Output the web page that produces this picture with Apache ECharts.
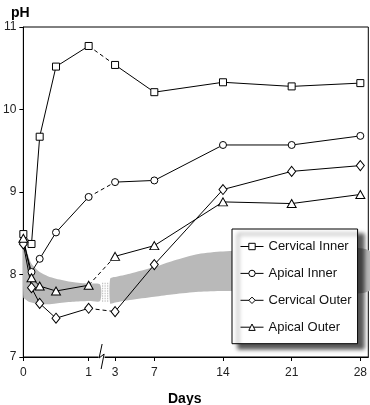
<!DOCTYPE html>
<html>
<head>
<meta charset="utf-8">
<script src="https://cdn.jsdelivr.net/npm/echarts@6/dist/echarts.min.js"></script>
<style>html,body{margin:0;padding:0;background:#fff}#c{width:370px;height:405px}</style>
</head>
<body>
<div id="c"></div>
<script>
// ---- data (days) ----
const timesEarly = [0, 0.125, 0.25, 0.5, 1];
const timesLate = [3, 7, 14, 21, 28];
const seriesNames = ['Cervical Inner', 'Apical Inner', 'Cervical Outer', 'Apical Outer'];
const cervicalInner = [8.49, 8.37, 9.67, 10.52, 10.77, 10.54, 10.21, 10.33, 10.28, 10.32];
const apicalInner   = [8.40, 8.03, 8.19, 8.51, 8.94, 9.12, 9.14, 9.57, 9.57, 9.68];
const cervicalOuter = [8.37, 7.84, 7.65, 7.47, 7.59, 7.55, 8.12, 9.03, 9.25, 9.32];
const apicalOuter   = [8.44, 7.96, 7.86, 7.80, 7.87, 8.22, 8.35, 8.88, 8.86, 8.97];
const xTickDays = [0, 1, 3, 7, 14, 21, 28];
const xTickLabels = ['0', '1', '3', '7', '14', '21', '28'];
const yTicks = [7, 8, 9, 10, 11];
// normal range band
const bandEarlyDays  = [0, 0.03, 0.0625, 0.125, 0.25, 0.375, 0.5, 0.75, 1, 1.175];
const bandEarlyUpper = [8.45, 8.36, 8.26, 8.13, 8.03, 7.98, 7.95, 7.91, 7.89, 7.88];
const bandEarlyLower = [7.72, 7.70, 7.68, 7.66, 7.64, 7.64, 7.65, 7.67, 7.68, 7.68];
const bandLateDays   = [2.5, 3, 4.5, 7, 9, 11.5, 14, 21, 28.9];
const bandLateUpper  = [7.95, 7.97, 8.01, 8.09, 8.17, 8.25, 8.28, 8.29, 8.29];
const bandLateLower  = [7.65, 7.66, 7.69, 7.73, 7.76, 7.79, 7.80, 7.80, 7.80];
const breakDay = 2.0;

// ---- broken-axis mapping: days -> axis units ----
function toAxis(d) {
  if (d === breakDay) return 78.5;
  return d < 2 ? d * 65.5 : 92 + (d - 3) * 9.84;
}
const tickPos = xTickDays.map(toAxis);

const symbols = [
  {symbol: 'rect', size: [7, 7]},
  {symbol: 'circle', size: 7},
  {symbol: 'diamond', size: [8, 10]},
  {symbol: 'triangle', size: [9, 8]}
];
const allData = [cervicalInner, apicalInner, cervicalOuter, apicalOuter];

const series = [];
allData.forEach((vals, i) => {
  const early = timesEarly.map((d, k) => [toAxis(d), vals[k]]);
  const late = timesLate.map((d, k) => [toAxis(d), vals[timesEarly.length + k]]);
  const base = {
    type: 'line', name: seriesNames[i],
    symbol: symbols[i].symbol, symbolSize: symbols[i].size,
    lineStyle: {color: '#000', width: 1},
    itemStyle: {color: '#fff', borderColor: '#000', borderWidth: 1},
    emphasis: {disabled: true}, z: 3, animation: false
  };
  series.push(Object.assign({}, base, {data: early}));
  series.push(Object.assign({}, base, {data: late}));
  series.push(Object.assign({}, base, {
    data: [early[early.length - 1], late[0]], showSymbol: false, symbol: 'none',
    lineStyle: {color: '#000', width: 1, type: [4, 3]}, z: 2
  }));
});

// band as custom polygons
series.push({
  type: 'custom', silent: true, z: 1, clip: false, animation: false,
  data: [0],
  renderItem: function (params, api) {
    function poly(days, up, lo) {
      const pts = [];
      days.forEach((d, k) => pts.push(api.coord([toAxis(d), up[k]])));
      for (let k = days.length - 1; k >= 0; k--) pts.push(api.coord([toAxis(days[k]), lo[k]]));
      return {type: 'polygon', shape: {points: pts, smooth: 0.25}, style: {fill: '#b9b9b9'}};
    }
    const children = [
      poly(bandEarlyDays, bandEarlyUpper, bandEarlyLower),
      poly(bandLateDays, bandLateUpper, bandLateLower)
    ];
    const a = toAxis(bandEarlyDays[bandEarlyDays.length - 1]);
    const b = toAxis(bandLateDays[0]);
    [0.25, 0.5, 0.75].forEach(f => {
      const x = a + (b - a) * f;
      const p1 = api.coord([x, 7.90]);
      const p2 = api.coord([x, 7.67]);
      children.push({type: 'line', shape: {x1: p1[0], y1: p1[1], x2: p2[0], y2: p2[1]},
        style: {stroke: '#c4c4c4', lineWidth: 1.2, lineDash: [1.5, 1]}});
    });
    return {type: 'group', children: children};
  }
});

// axis break mark
series.push({
  type: 'custom', silent: true, z: 5, clip: false, animation: false,
  data: [0],
  renderItem: function (params, api) {
    const p = api.coord([toAxis(breakDay), 7]);
    const x = p[0], y = p[1];
    return {type: 'group', children: [
      {type: 'line', shape: {x1: x - 3, y1: y, x2: x + 3, y2: y}, style: {stroke: '#fff', lineWidth: 2}},
      {type: 'polyline', shape: {points: [[x + 0.5, y - 13], [x - 2.5, y + 1], [x + 2.5, y - 3], [x - 0.5, y + 12]]},
        style: {stroke: '#000', lineWidth: 1, fill: null}}
    ]};
  }
});

const FONT = 'Liberation Sans, Arial, Helvetica, sans-serif';
const chart = echarts.init(document.getElementById('c'), null, {renderer: 'canvas'});
chart.setOption({
  animation: false,
  backgroundColor: '#fff',
  textStyle: {fontFamily: FONT},
  title: [
    {text: 'pH', left: 6, top: 1, textStyle: {fontSize: 14, fontWeight: 'bold', color: '#000', fontFamily: FONT}},
    {text: 'Days', left: 163, top: 387, textStyle: {fontSize: 14, fontWeight: 'bold', color: '#000', fontFamily: FONT}}
  ],
  grid: {left: 23, top: 27, right: 1, bottom: 48, show: true, borderColor: '#000', borderWidth: 1, containLabel: false},
  xAxis: {
    type: 'value', min: 0, max: 346,
    axisLine: {lineStyle: {color: '#000', width: 1}},
    axisTick: {show: true, customValues: tickPos, length: 4, inside: false, lineStyle: {color: '#000'}},
    axisLabel: {customValues: tickPos, margin: 10, fontSize: 12, color: '#222', fontFamily: FONT,
      formatter: function (v) {
        let best = 0;
        tickPos.forEach((t, k) => { if (Math.abs(t - v) < Math.abs(tickPos[best] - v)) best = k; });
        return xTickLabels[best];
      }},
    splitLine: {show: false}
  },
  yAxis: {
    type: 'value', min: yTicks[0], max: yTicks[yTicks.length - 1], interval: 1,
    axisLine: {show: true, lineStyle: {color: '#000', width: 1}},
    axisTick: {show: true, length: 4, lineStyle: {color: '#000'}},
    axisLabel: {margin: 7, fontSize: 12, color: '#222', fontFamily: FONT},
    splitLine: {show: false}
  },
  legend: {
    data: seriesNames, orient: 'vertical', left: 232, top: 229,
    itemWidth: 23, itemHeight: 8, itemGap: 13.9,
    padding: [11, 6, 10, 8],
    backgroundColor: '#fff', borderColor: '#000', borderWidth: 1,
    shadowBlur: 4, shadowColor: 'rgba(0,0,0,0.65)', shadowOffsetX: 6, shadowOffsetY: 5,
    lineStyle: {width: 1, color: '#000'},
    itemStyle: {borderWidth: 1, color: '#fff', borderColor: '#000'},
    textStyle: {fontSize: 13, color: '#111', fontFamily: FONT},
    selectedMode: false
  },
  series: series
});
</script>
</body>
</html>
